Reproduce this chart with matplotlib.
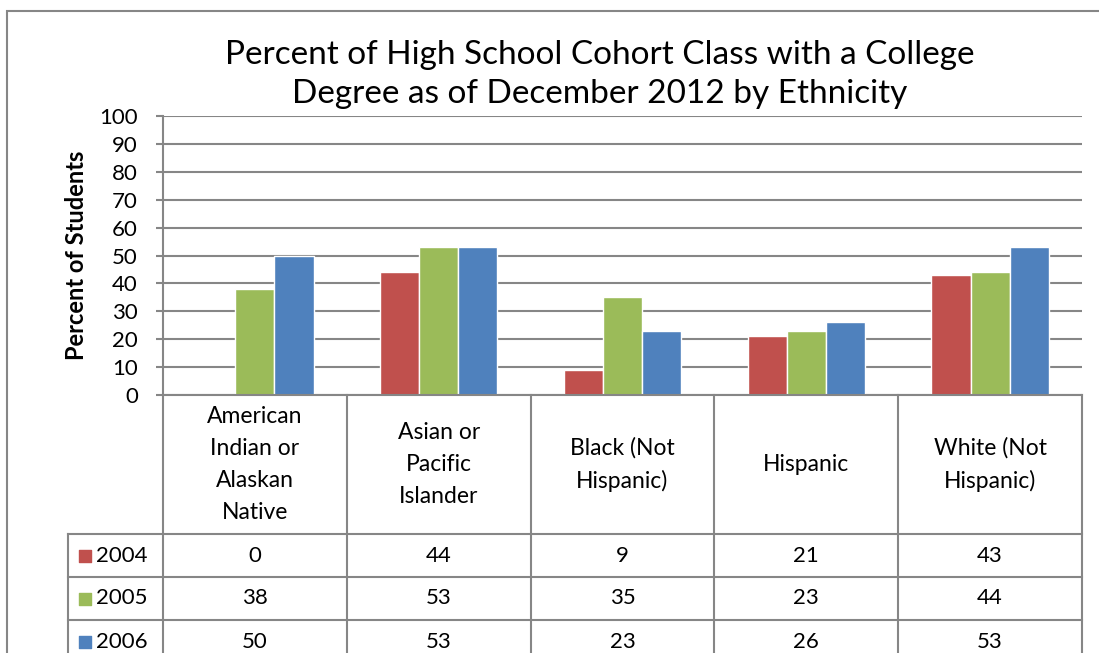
import numpy as np
import matplotlib
matplotlib.use("Agg")
import matplotlib.pyplot as plt
from matplotlib.patches import Rectangle

# data
categories = ["American\nIndian or\nAlaskan\nNative", "Asian or\nPacific\nIslander",
              "Black (Not\nHispanic)", "Hispanic", "White (Not\nHispanic)"]
years = ["2004", "2005", "2006"]
pct_2004 = [0, 44, 9, 21, 43]
pct_2005 = [38, 53, 35, 23, 44]
pct_2006 = [50, 53, 23, 26, 53]
series = [pct_2004, pct_2005, pct_2006]
colors = ["#C0504D", "#9BBB59", "#4F81BD"]

plt.rcParams["font.family"] = ["Lato", "DejaVu Sans"]
W, H = 1099, 653
fig = plt.figure(figsize=(W / 100, H / 100), dpi=100)

def px_box(x0, y0, x1, y1):
    return [x0 / W, 1 - y1 / H, (x1 - x0) / W, (y1 - y0) / H]

grid_c = "#868686"

# outer chart border
fig.patches.append(Rectangle((7 / W, -0.1), 1.2, 1 - 11 / H + 0.1, transform=fig.transFigure,
                             fill=False, edgecolor=grid_c, linewidth=1.5))

# main plot area
ax = fig.add_axes(px_box(163, 116, 1082, 395))
n = len(categories)
x = np.arange(n)
w = 0.213
for k, (vals, col) in enumerate(zip(series, colors)):
    ax.bar(x + (k - 1) * w, vals, width=w, color=col, edgecolor="white", linewidth=1, zorder=3)

ax.set_xlim(-0.5, n - 0.5)
ax.set_ylim(0, 100)
ax.set_yticks(range(0, 101, 10))
ax.set_xticks([])
ax.yaxis.grid(True, color=grid_c, linewidth=1.5)
ax.set_axisbelow(True)
for s in ["top", "right", "bottom"]:
    ax.spines[s].set_visible(False)
ax.spines["left"].set_color(grid_c)
ax.spines["left"].set_linewidth(1.5)
ax.tick_params(axis="y", length=5, width=1.5, color=grid_c, labelsize=16, pad=13)
ax.set_ylabel("Percent of Students", fontsize=17, fontweight="bold", labelpad=8)

fig.suptitle("Percent of High School Cohort Class with a College\nDegree as of December 2012 by Ethnicity",
             fontsize=24, x=600 / W, y=1 - 40 / H, va="top", linespacing=1.38, zorder=5)

# data table below the plot (same category scale)
tab = fig.add_axes(px_box(68, 395, 1082, 653))
left_edge = -0.5 - (163 - 68) / 183.8
tab.set_xlim(left_edge, n - 0.5)
tab.set_ylim(258, 0)
tab.axis("off")
line_kw = dict(color=grid_c, linewidth=1.5, clip_on=False)
header_bot, row_h = 139, 43
rows_y = [header_bot + r * row_h for r in range(len(years) + 1)]
tab.plot([-0.5, n - 0.5], [0, 0], **line_kw)
for xb in np.arange(-0.5, n, 1.0):
    tab.plot([xb, xb], [0, 280], **line_kw)
for yb in rows_y[:-1]:
    tab.plot([left_edge, n - 0.5], [yb, yb], **line_kw)
tab.plot([left_edge, left_edge], [header_bot, 280], **line_kw)

for i, cat in enumerate(categories):
    tab.text(i, header_bot / 2, cat, ha="center", va="center", fontsize=16.5, linespacing=1.65)
for r, (yr, vals, col) in enumerate(zip(years, series, colors)):
    yc = header_bot + row_h * (r + 0.5)
    tab.scatter([left_edge + 0.09], [yc], marker="s", s=80, color=col, clip_on=False)
    tab.text(left_edge + 0.15, yc, yr, ha="left", va="center", fontsize=16)
    for i, v in enumerate(vals):
        tab.text(i, yc, str(v), ha="center", va="center", fontsize=16)

fig.savefig("out.png", dpi=100)
